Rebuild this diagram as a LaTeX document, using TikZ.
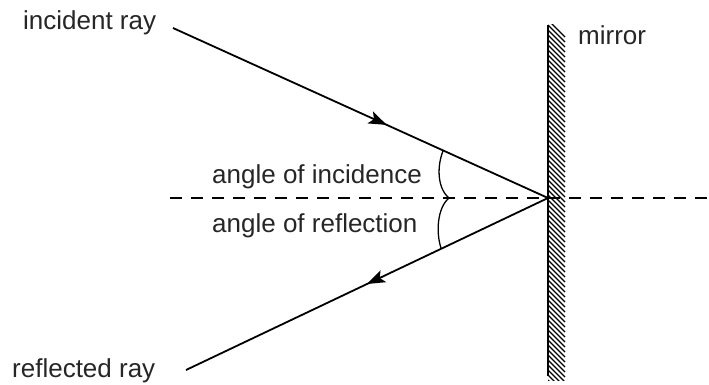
\documentclass[tikz,border=0pt]{standalone}
\usepackage{fontspec}
\setmainfont{Liberation Sans}
\usetikzlibrary{arrows.meta,decorations.markings}
\begin{document}
\begin{tikzpicture}[x=1pt,y=-1pt,
  lbl/.style={inner sep=0pt,font=\fontsize{26}{30}\selectfont,text=black!85},
  ray/.style={line width=1.8pt},
  midarrow/.style={postaction={decorate},decoration={markings,
     mark=at position #1 with {\arrow{Stealth[length=18pt,width=13pt,inset=4pt]}}}},
  hatch/.style={line width=1.3pt},
  axis/.style={line width=1.6pt,dash pattern=on 12pt off 9pt},
  arcline/.style={line width=1.3pt}]
\useasboundingbox (0,0) rectangle (709,385);
% coordinates
\coordinate (O) at (548,198);
\coordinate (A) at (173,28);
\coordinate (B) at (186,370);
\coordinate (D1) at (170,198);
\coordinate (D2) at (709,198);
\coordinate (Mt) at (548,25);
\coordinate (Mb) at (548,376);
% dashed normal
\draw[axis] (D1) -- (D2);
% mirror hatching
\begin{scope}
\clip (548,25) rectangle (566,380);
\foreach \y in {20,25,...,380} {
  \draw[hatch] (548,\y) -- (565,\y+17);
}
\end{scope}
\draw[line width=1.8pt] (Mt) -- (Mb);
% rays
\draw[ray,midarrow=0.57] (A) -- (O);
\draw[ray,midarrow=0.50] (O) -- (B);
% angle marks
\coordinate (P1) at (443,151);
\coordinate (P2) at (441,248);
\coordinate (C) at (449,198);
\draw[arcline] (P1) .. controls (437,166) and (437,188) .. (C);
\draw[arcline] (P2) .. controls (436,233) and (437,208) .. (C);
% labels
\node[lbl,anchor=base west] (inc) at (23,30) {incident ray};
\node[lbl,anchor=base west] (ref) at (12,377) {reflected ray};
\node[lbl,anchor=base west] (ai) at (212,183) {angle of incidence};
\node[lbl,anchor=base west] (ar) at (212,232) {angle of reflection};
\node[lbl,anchor=base west] (mir) at (578,45) {mirror};
\end{tikzpicture}
\end{document}
